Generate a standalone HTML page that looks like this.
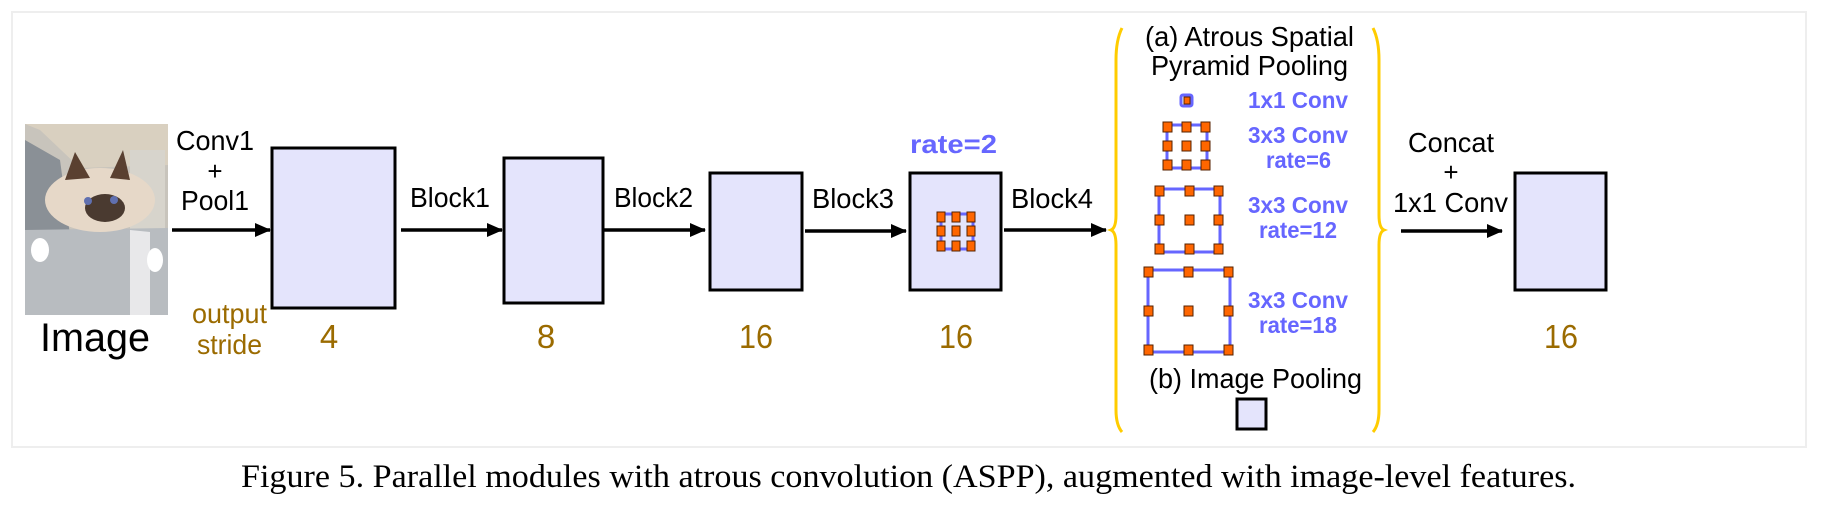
<!DOCTYPE html>
<html><head><meta charset="utf-8"><style>
html,body{margin:0;padding:0;background:#fff;}
svg{display:block;}
</style></head><body>
<svg width="1822" height="515" viewBox="0 0 1822 515" xmlns="http://www.w3.org/2000/svg" font-family="Liberation Sans, Arial, sans-serif">
<defs>
<marker id="ah" markerWidth="18" markerHeight="14" refX="15" refY="7" orient="auto" markerUnits="userSpaceOnUse"><path d="M0,0 L16,7 L0,14 Z" fill="#000"/></marker>
</defs>
<rect x="12" y="12" width="1794" height="435" fill="#fff" stroke="#eeeeee" stroke-width="2"/>
<!-- cat image -->
<g>
<rect x="25" y="124" width="143" height="191" fill="#c8c4bc"/>
<polygon points="25,124 168,124 168,165 80,168 40,130" fill="#d9d0c0"/>
<polygon points="25,140 60,160 70,235 25,245" fill="#8a9096"/>
<polygon points="130,150 165,150 165,240 130,235" fill="#d7d4cc"/>
<polygon points="25,230 168,228 168,315 25,315" fill="#b8bcc0"/>
<polygon points="130,230 150,232 150,315 130,315" fill="#e8e8ea"/>
<ellipse cx="100" cy="200" rx="55" ry="32" fill="#e6d8c8"/>
<polygon points="65,180 75,152 90,178" fill="#5a4030"/>
<polygon points="110,178 123,150 130,180" fill="#5a4030"/>
<ellipse cx="105" cy="208" rx="20" ry="14" fill="#4a3a30"/>
<circle cx="88" cy="201" r="4" fill="#6070b0"/><circle cx="114" cy="200" r="4" fill="#6070b0"/>
<ellipse cx="40" cy="250" rx="9" ry="12" fill="#fff"/>
<ellipse cx="155" cy="260" rx="8" ry="12" fill="#fff"/>
</g>
<g lengthAdjust="spacingAndGlyphs">
<text x="40" y="351" font-size="40" textLength="110" lengthAdjust="spacingAndGlyphs">Image</text>
<text x="176" y="150" font-size="28" textLength="78" lengthAdjust="spacingAndGlyphs">Conv1</text>
<text x="215" y="180" font-size="26" text-anchor="middle">+</text>
<text x="181" y="210" font-size="28" textLength="68" lengthAdjust="spacingAndGlyphs">Pool1</text>
<g fill="#9b6b00" font-size="28">
<text x="192" y="323" textLength="75" lengthAdjust="spacingAndGlyphs">output</text>
<text x="197" y="354" textLength="65" lengthAdjust="spacingAndGlyphs">stride</text>
</g>
<g fill="#9b6b00" font-size="33" text-anchor="middle">
<text x="329" y="348">4</text>
<text x="546" y="348">8</text>
<text x="756" y="348" textLength="34" lengthAdjust="spacingAndGlyphs">16</text>
<text x="956" y="348" textLength="34" lengthAdjust="spacingAndGlyphs">16</text>
<text x="1561" y="348" textLength="34" lengthAdjust="spacingAndGlyphs">16</text>
</g>
</g>
<g stroke="#000" stroke-width="3.5" marker-end="url(#ah)">
<line x1="172" y1="230" x2="270" y2="230"/>
<line x1="401" y1="230" x2="502" y2="230"/>
<line x1="604" y1="230" x2="705" y2="230"/>
<line x1="805" y1="231" x2="906" y2="231"/>
<line x1="1004" y1="230" x2="1106" y2="230"/>
<line x1="1401" y1="231" x2="1502" y2="231"/>
</g>
<g fill="#e4e4fc" stroke="#000" stroke-width="3">
<rect x="272" y="148" width="123" height="160"/>
<rect x="504" y="158" width="99" height="145"/>
<rect x="710" y="173" width="92" height="117"/>
<rect x="910" y="173" width="91" height="117"/>
<rect x="1515" y="173" width="91" height="117"/>
<rect x="1237" y="399" width="29" height="30"/>
</g>
<g font-size="28">
<text x="410" y="207" textLength="80" lengthAdjust="spacingAndGlyphs">Block1</text>
<text x="614" y="207" textLength="79" lengthAdjust="spacingAndGlyphs">Block2</text>
<text x="812" y="208" textLength="82" lengthAdjust="spacingAndGlyphs">Block3</text>
<text x="1011" y="208" textLength="82" lengthAdjust="spacingAndGlyphs">Block4</text>
<text x="1408" y="152" textLength="86" lengthAdjust="spacingAndGlyphs">Concat</text>
<text x="1451" y="181" font-size="26" text-anchor="middle">+</text>
<text x="1393" y="212" textLength="115" lengthAdjust="spacingAndGlyphs">1x1 Conv</text>
<text x="1145" y="46" textLength="209" lengthAdjust="spacingAndGlyphs">(a) Atrous Spatial</text>
<text x="1151" y="75" textLength="197" lengthAdjust="spacingAndGlyphs">Pyramid Pooling</text>
<text x="1149" y="388" textLength="213" lengthAdjust="spacingAndGlyphs">(b) Image Pooling</text>
</g>
<g fill="#6666ff" font-weight="bold">
<text x="910" y="153" font-size="26" textLength="87" lengthAdjust="spacingAndGlyphs">rate=2</text>
<g font-size="23">
<text x="1248" y="108" textLength="100" lengthAdjust="spacingAndGlyphs">1x1 Conv</text>
<text x="1248" y="143" textLength="100" lengthAdjust="spacingAndGlyphs">3x3 Conv</text>
<text x="1266" y="168" textLength="65" lengthAdjust="spacingAndGlyphs">rate=6</text>
<text x="1248" y="213" textLength="100" lengthAdjust="spacingAndGlyphs">3x3 Conv</text>
<text x="1259" y="238" textLength="78" lengthAdjust="spacingAndGlyphs">rate=12</text>
<text x="1248" y="308" textLength="100" lengthAdjust="spacingAndGlyphs">3x3 Conv</text>
<text x="1259" y="333" textLength="78" lengthAdjust="spacingAndGlyphs">rate=18</text>
</g>
</g>
<!-- braces -->
<g fill="none" stroke="#ffcc00" stroke-width="3">
<path d="M1122,28 Q1116,40 1116,60 L1116,215 Q1116,228 1111,230 Q1116,232 1116,245 L1116,410 Q1116,425 1122,432"/>
<path d="M1373,28 Q1379,40 1379,60 L1379,215 Q1379,228 1384,230 Q1379,232 1379,245 L1379,410 Q1379,425 1373,432"/>
</g>
<!-- kernels -->
<g fill="none" stroke="#6666ff" stroke-width="3">
<rect x="1181" y="95" width="11" height="11" rx="2"/>
<rect x="1167" y="125" width="40" height="43"/>
<rect x="1159" y="189" width="61" height="63"/>
<rect x="1148" y="270" width="82" height="82"/>
<rect x="941" y="214" width="32" height="35"/>
</g>
<g fill="#ff6600" stroke="#552200" stroke-width="1">
<rect x="1184" y="97" width="6" height="7"/>
<rect x="1163" y="122" width="9" height="10"/><rect x="1182" y="122" width="9" height="10"/><rect x="1201" y="122" width="9" height="10"/>
<rect x="1163" y="141" width="9" height="10"/><rect x="1182" y="141" width="9" height="10"/><rect x="1201" y="141" width="9" height="10"/>
<rect x="1163" y="160" width="9" height="10"/><rect x="1182" y="160" width="9" height="10"/><rect x="1201" y="160" width="9" height="10"/>
<rect x="1155" y="186" width="9" height="10"/><rect x="1185" y="186" width="9" height="10"/><rect x="1214" y="186" width="9" height="10"/>
<rect x="1155" y="215" width="9" height="10"/><rect x="1185" y="215" width="9" height="10"/><rect x="1214" y="215" width="9" height="10"/>
<rect x="1155" y="244" width="9" height="10"/><rect x="1185" y="244" width="9" height="10"/><rect x="1214" y="244" width="9" height="10"/>
<rect x="1144" y="267" width="9" height="10"/><rect x="1184" y="267" width="9" height="10"/><rect x="1224" y="267" width="9" height="10"/>
<rect x="1144" y="306" width="9" height="10"/><rect x="1184" y="306" width="9" height="10"/><rect x="1224" y="306" width="9" height="10"/>
<rect x="1144" y="345" width="9" height="10"/><rect x="1184" y="345" width="9" height="10"/><rect x="1224" y="345" width="9" height="10"/>
<rect x="937" y="212" width="8" height="10"/><rect x="952" y="212" width="8" height="10"/><rect x="967" y="212" width="8" height="10"/>
<rect x="937" y="226" width="8" height="10"/><rect x="952" y="226" width="8" height="10"/><rect x="967" y="226" width="8" height="10"/>
<rect x="937" y="241" width="8" height="10"/><rect x="952" y="241" width="8" height="10"/><rect x="967" y="241" width="8" height="10"/>
</g>
<text x="241" y="487" font-family="Liberation Serif, Times New Roman, serif" font-size="33" textLength="1335" lengthAdjust="spacingAndGlyphs">Figure 5. Parallel modules with atrous convolution (ASPP), augmented with image-level features.</text>
</svg>
</body></html>
